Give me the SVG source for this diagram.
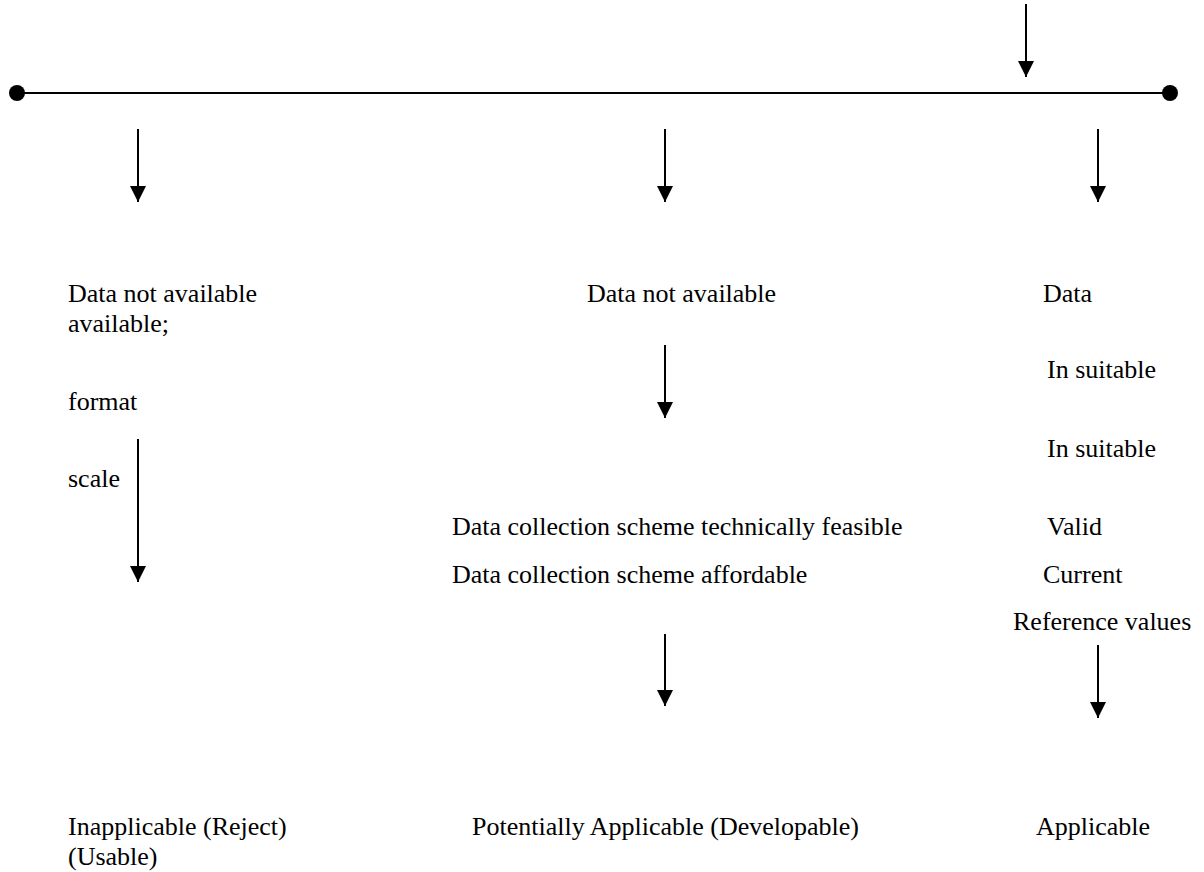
<svg xmlns="http://www.w3.org/2000/svg" width="1204" height="872" viewBox="0 0 1204 872">
<style>
text { font-family: "Liberation Serif", "Times New Roman", serif; font-size: 26px; fill: #000; }
.conn line { stroke: #000; stroke-width: 2; }
</style>
<defs>
<marker id="ah" viewBox="0 0 16 16" refX="16" refY="8" markerWidth="16" markerHeight="16" markerUnits="userSpaceOnUse" orient="auto">
<path d="M0,0 L16,8 L0,16 z" fill="#000"/>
</marker>
</defs>
<rect width="1204" height="872" fill="#fff"/>
<g id="connectors" class="conn">
<line x1="1026" y1="4" x2="1026" y2="77" marker-end="url(#ah)"/>
<line x1="17" y1="93" x2="1170" y2="93"/>
<line x1="138" y1="129" x2="138" y2="202" marker-end="url(#ah)"/>
<line x1="665" y1="129" x2="665" y2="202" marker-end="url(#ah)"/>
<line x1="1098" y1="129" x2="1098" y2="202" marker-end="url(#ah)"/>
<line x1="138" y1="439" x2="138" y2="582" marker-end="url(#ah)"/>
<line x1="665" y1="345" x2="665" y2="418" marker-end="url(#ah)"/>
<line x1="665" y1="634" x2="665" y2="706" marker-end="url(#ah)"/>
<line x1="1098" y1="645" x2="1098" y2="718" marker-end="url(#ah)"/>
</g>
<g id="endpoints">
<circle cx="17" cy="93" r="8" fill="#000"/>
<circle cx="1170" cy="93" r="8" fill="#000"/>
</g>
<g id="left-column">
<text x="68" y="302">Data not available</text>
<text x="68" y="332">available;</text>
<text x="68" y="410">format</text>
<text x="68" y="487">scale</text>
</g>
<g id="middle-column">
<text x="587" y="302">Data not available</text>
<text x="452" y="535">Data collection scheme technically feasible</text>
<text x="452" y="583">Data collection scheme affordable</text>
</g>
<g id="right-column">
<text x="1043" y="302">Data</text>
<text x="1047" y="378">In suitable</text>
<text x="1047" y="457">In suitable</text>
<text x="1047" y="535">Valid</text>
<text x="1043" y="583">Current</text>
<text x="1013" y="630">Reference values</text>
</g>
<g id="outcome-left">
<text x="68" y="835">Inapplicable (Reject)</text>
<text x="68" y="865">(Usable)</text>
</g>
<g id="outcome-middle">
<text x="472" y="835">Potentially Applicable (Developable)</text>
</g>
<g id="outcome-right">
<text x="1036" y="835">Applicable</text>
</g>
</svg>
